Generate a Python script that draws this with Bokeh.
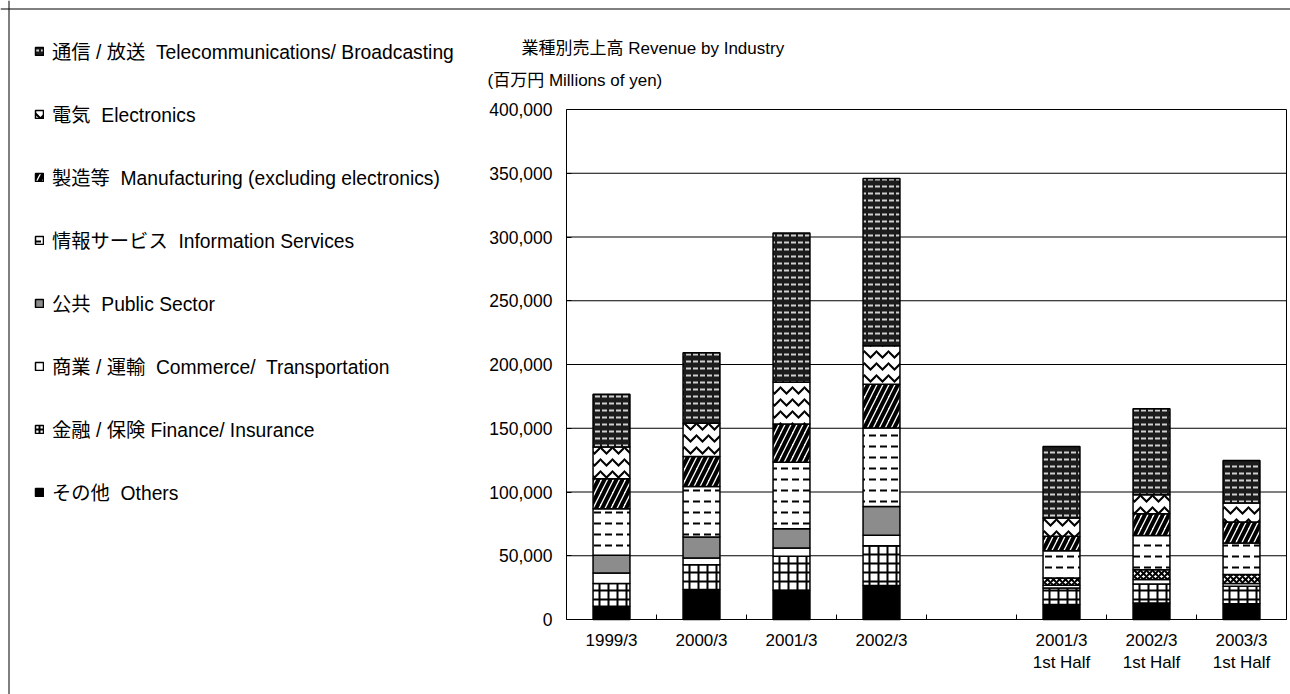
import numpy as np
from bokeh.plotting import figure
from bokeh.models import (ColumnDataSource, Range1d, FixedTicker, NumeralTickFormatter,
                          Legend, LegendItem, Label, LinearAxis, Span)
from bokeh.embed import file_html
from bokeh.resources import INLINE

# ---------------- data ----------------
slots = ["1999/3", "2000/3", "2001/3", "2002/3", "",
         "2001/3\n1st Half", "2002/3\n1st Half", "2003/3\n1st Half"]
others   = [10400, 23500, 22700, 26600, 11700, 13000, 12300]
finance  = [17800, 19500, 26900, 31300, 13100, 14900, 13800]
commerce = [8300, 5300, 6500, 8100, 2100, 3400, 2100]
public   = [13800, 16400, 15100, 22700, 5700, 7800, 7000]
info     = [36600, 39700, 52200, 61400, 21400, 26700, 24800]
manuf    = [23500, 23400, 30000, 34400, 11200, 17200, 16500]
elec     = [24800, 26200, 32700, 30200, 14400, 14800, 14800]
telecom  = [41500, 55200, 117100, 131100, 56100, 67400, 33400]
y_ticks = [0, 50000, 100000, 150000, 200000, 250000, 300000, 350000, 400000]

series_keys = ["others", "finance", "commerce", "public", "info", "manuf", "elec", "telecom"]
series_labels = ["その他  Others",
                 "金融 / 保険 Finance/ Insurance",
                 "商業 / 運輸  Commerce/  Transportation",
                 "公共  Public Sector",
                 "情報サービス  Information Services",
                 "製造等  Manufacturing (excluding electronics)",
                 "電気  Electronics",
                 "通信 / 放送  Telecommunications/ Broadcasting"]
title_text = "業種別売上高  Revenue by Industry"
unit_text = "(百万円  Millions of yen)"

FONT = "Liberation Sans, Noto Sans CJK JP"

# ---------------- styles ----------------
styles = {
    "others":   dict(fill_color="black", hatch_pattern=" ", hatch_color="black", hatch_scale=12, hatch_weight=1),
    "finance":  dict(fill_color="white", hatch_pattern="+", hatch_color="black", hatch_scale=9, hatch_weight=2),
    "commerce": dict(fill_color="white", hatch_pattern=" ", hatch_color="black", hatch_scale=12, hatch_weight=1),
    "public":   dict(fill_color="#8c8c8c", hatch_pattern=" ", hatch_color="black", hatch_scale=6, hatch_weight=2),
    "info":     dict(fill_color="white", hatch_pattern='"', hatch_color="black", hatch_scale=11, hatch_weight=2),
    "manuf":    dict(fill_color="white", hatch_pattern="/", hatch_color="black", hatch_scale=12, hatch_weight=4),
    "elec":     dict(fill_color="white", hatch_pattern="v", hatch_color="black", hatch_scale=12, hatch_weight=2),
    "telecom":  dict(fill_color="#1c1c1c", hatch_pattern='"', hatch_color="#d0d0d0", hatch_scale=7, hatch_weight=2),
}

xs = [i + 0.5 for i, s in enumerate(slots) if s]
half = ["Half" in s for s in slots if s]
data = dict(x=xs, others=others, finance=finance, commerce=commerce, public=public,
            info=info, manuf=manuf, elec=elec, telecom=telecom,
            pub_fill=["white" if h else "#8c8c8c" for h in half],
            pub_hatch=["x" if h else " " for h in half])
source = ColumnDataSource(data)

# ---------------- geometry (pixels on the page) ----------------
W, H = 1290, 694
AXIS_X, PLOT_R = 566, 1286       # visible plot area left / right
PLOT_TOP, PLOT_BOT = 109, 619    # 400,000 line / 0 line
n = len(slots)
y_max = 400000
unit = (PLOT_R - AXIS_X) / n
yunit = (PLOT_BOT - PLOT_TOP) / y_max

def x_at(px):
    return (px - AXIS_X) / unit

def y_at(py):
    return (PLOT_BOT - py) / yunit

# the frame covers the whole canvas; axes are drawn at fixed locations inside it
p = figure(width=W, height=H, output_backend="svg", toolbar_location=None,
           x_range=Range1d(x_at(0), x_at(W)), y_range=Range1d(y_at(H), y_at(0)),
           min_border_left=0, min_border_right=0, min_border_top=0, min_border_bottom=0)
p.outline_line_color = None
p.xgrid.visible = False
p.ygrid.visible = False

# outer border (top and left edges of the chart area)
p.add_layout(Span(location=y_at(8.5), dimension="width", line_color="black", line_width=1))
p.add_layout(Span(location=x_at(8.5), dimension="height", line_color="black", line_width=1))

# grid lines at the y ticks across the plot area
p.segment(x0=0, x1=n, y0=y_ticks, y1=y_ticks, line_color="black", line_width=1, level="underlay")

kw = {k: [] for k in ["fill_color", "hatch_pattern", "hatch_color", "hatch_scale", "hatch_weight"]}
for key in series_keys:
    st = dict(styles[key])
    if key == "public":
        st["fill_color"] = "pub_fill"
        st["hatch_pattern"] = "pub_hatch"
    for k in kw:
        kw[k].append(st[k])

renderers = p.vbar_stack(series_keys, x="x", width=0.41, source=source,
                         line_color="black", line_width=1.5, **kw)

# y axis drawn at x = 0
ya = p.yaxis[0]
ya.fixed_location = 0
ya.bounds = (0, y_max)
ya.ticker = FixedTicker(ticks=y_ticks)
ya.formatter = NumeralTickFormatter(format="0,0")
ya.major_tick_in = 5
ya.major_tick_out = 0
ya.minor_tick_line_color = None
ya.major_label_standoff = 14
ya.major_label_text_font_size = "17.5px"
ya.major_label_text_font = FONT
ya.major_label_text_color = "black"
ya.axis_line_color = "black"

# right border of plot area
ra = LinearAxis(fixed_location=n, bounds=(0, y_max), ticker=FixedTicker(ticks=[]),
                major_tick_in=0, major_tick_out=0, minor_tick_in=0, minor_tick_out=0,
                major_label_text_font_size="0px", axis_line_color="black")
p.add_layout(ra, "right")

# x axis drawn at y = 0
xa = p.xaxis[0]
centers = [i + 0.5 for i, s in enumerate(slots) if s]
bounds = [float(i) for i in range(1, n)]
xa.fixed_location = 0
xa.bounds = (0, n)
xa.ticker = FixedTicker(ticks=centers, minor_ticks=bounds)
xa.major_label_overrides = {i + 0.5: s for i, s in enumerate(slots) if s}
xa.major_tick_in = 0
xa.major_tick_out = 0
xa.minor_tick_in = 5
xa.minor_tick_out = 0
xa.minor_tick_line_color = "black"
xa.major_label_standoff = 11
xa.major_label_text_font_size = "17px"
xa.major_label_text_font = FONT
xa.major_label_text_color = "black"
xa.axis_line_color = "black"

# titles (screen units measured from the frame's bottom-left)
p.add_layout(Label(x=521, y=H - 48, x_units="screen", y_units="screen", text=title_text,
                   text_font_size="17px", text_font=FONT, text_baseline="middle", text_color="black"))
p.add_layout(Label(x=487, y=H - 80, x_units="screen", y_units="screen", text=unit_text,
                   text_font_size="17px", text_font=FONT, text_baseline="middle", text_color="black"))

# ---------------- legend ----------------
items = [LegendItem(label=lab, renderers=[r]) for lab, r in zip(series_labels, renderers)][::-1]
legend = Legend(items=items, location=(34, H - 506), margin=0, padding=0,
                glyph_width=10, glyph_height=10, label_standoff=8,
                label_height=28, spacing=35,
                label_text_font_size="19.3px", label_text_font=FONT, label_text_color="black",
                border_line_color=None, background_fill_alpha=0)
p.add_layout(legend, "center")

open("out.html", "w").write(file_html(p, INLINE))
